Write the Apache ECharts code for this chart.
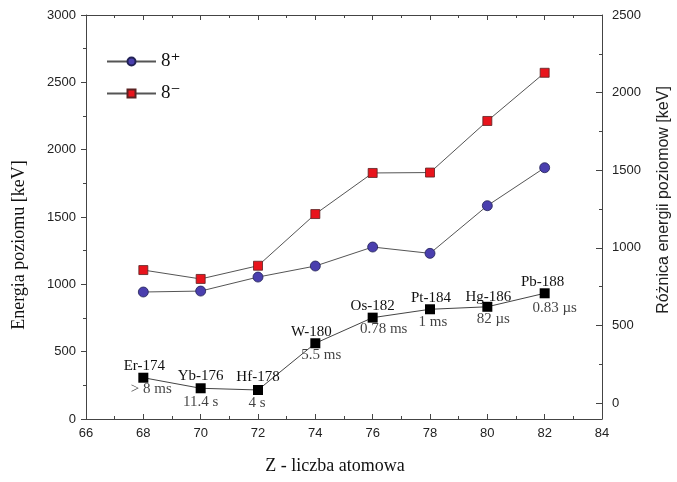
<!DOCTYPE html>
<html>
<head>
<meta charset="utf-8">
<script src="https://cdn.jsdelivr.net/npm/echarts@6/dist/echarts.min.js"></script>
<style>html,body{margin:0;padding:0;background:#fff;}#c{width:677px;height:482px;}</style>
</head>
<body>
<div id="c"></div>
<script>
// ---- data ----
var Z = [68, 70, 72, 74, 76, 78, 80, 82];
var e8plus = [943, 950, 1054, 1136, 1277, 1230, 1584, 1866];
var e8minus = [1106, 1040, 1138, 1522, 1827, 1830, 2213, 2571];
var diff = [163, 95, 84, 385, 550, 604, 620, 707];
var nuclides = ['Er-174', 'Yb-176', 'Hf-178', 'W-180', 'Os-182', 'Pt-184', 'Hg-186', 'Pb-188'];
var halfLives = ['> 8 ms', '11.4 s', '4 s', '5.5 ms', '0.78 ms', '1 ms', '82 \u00b5s', '0.83 \u00b5s'];
var xTicks = [66, 84, 2];
var leftTicks = [0, 3000, 500];
var rightRange = [-103, 2500];

// ---- label placement (style only) ----
var nameOffsets = [[1,-12],[0,-12],[0,-13],[-4,-11],[0,-12],[1,-11],[1,-10],[-2,-11]];
var lifeOffsets = [[8,11],[0,14],[-1,13],[6,12],[11,11],[3,13],[6,12],[10,15]];

var serif = "'Liberation Serif','DejaVu Serif',serif";
var sans = "'Liberation Sans',Arial,sans-serif";
var axisCol = '#444';

function pairs(vals){ return Z.map(function(z,i){ return [z, vals[i]]; }); }

var nameData = Z.map(function(z,i){
  return { value:[z, diff[i]], label:{ formatter: nuclides[i], offset: nameOffsets[i] } };
});
var lifeData = Z.map(function(z,i){
  return { value:[z, diff[i]], label:{ formatter: halfLives[i], offset: lifeOffsets[i] } };
});

var chart = echarts.init(document.getElementById('c'), null, {renderer:'canvas'});
chart.setOption({
  animation:false,
  backgroundColor:'#fff',
  grid:{ left:86, right:75, top:15, bottom:63, containLabel:false, outerBoundsMode:'none' },
  legend:{
    orient:'vertical', left:101, top:47, itemWidth:49, itemHeight:10, itemGap:13,
    data:['8\u207a','8\u207b'],
    textStyle:{ fontFamily:serif, fontSize:19, color:'#111' }
  },
  xAxis:[{
    type:'value', min:xTicks[0], max:xTicks[1], interval:xTicks[2], position:'bottom',
    name:'Z - liczba atomowa', nameLocation:'middle', nameGap:38,
    nameTextStyle:{ fontFamily:serif, fontSize:18, color:'#111', padding:[0,18,0,0] },
    axisLine:{ onZero:false, lineStyle:{ color:axisCol, width:1 } },
    axisTick:{ inside:true, length:5, lineStyle:{ color:axisCol } },
    minorTick:{ show:true, splitNumber:2, length:3, lineStyle:{ color:axisCol } },
    axisLabel:{ fontFamily:sans, fontSize:13, color:'#222', margin:8 },
    splitLine:{ show:false }
  },{
    type:'value', min:xTicks[0], max:xTicks[1], interval:xTicks[2], position:'top',
    axisLine:{ onZero:false, lineStyle:{ color:axisCol, width:1 } },
    axisTick:{ inside:true, length:5, lineStyle:{ color:axisCol } },
    minorTick:{ show:true, splitNumber:2, length:3, lineStyle:{ color:axisCol } },
    axisLabel:{ show:false }, splitLine:{ show:false }
  }],
  yAxis:[{
    type:'value', min:leftTicks[0], max:leftTicks[1], interval:leftTicks[2], position:'left',
    name:'Energia poziomu [keV]', nameLocation:'middle', nameGap:58, nameRotate:90,
    nameTextStyle:{ fontFamily:serif, fontSize:18, color:'#111', padding:[0,56,0,0] },
    axisLine:{ show:true, onZero:false, lineStyle:{ color:axisCol, width:1 } },
    axisTick:{ show:true, inside:false, length:5, lineStyle:{ color:axisCol } },
    minorTick:{ show:true, splitNumber:2, length:3, lineStyle:{ color:axisCol } },
    axisLabel:{ fontFamily:sans, fontSize:13, color:'#222', margin:10,
      formatter:function(v){ return String(v); } },
    splitLine:{ show:false }
  },{
    type:'value', min:rightRange[0], max:rightRange[1], splitNumber:5, position:'right',
    name:'R\u00f3\u017cnica energii poziomow [keV]', nameLocation:'middle', nameGap:54, nameRotate:90,
    nameTextStyle:{ fontFamily:sans, fontSize:16, color:'#222', padding:[0,0,0,34] },
    axisLine:{ show:true, onZero:false, lineStyle:{ color:axisCol, width:1 } },
    axisTick:{ show:true, inside:true, length:6, lineStyle:{ color:axisCol } },
    minorTick:{ show:true, splitNumber:2, length:3, lineStyle:{ color:axisCol } },
    axisLabel:{ fontFamily:sans, fontSize:13, color:'#222', margin:10,
      formatter:function(v){ return v < 0 ? '' : String(v); } },
    splitLine:{ show:false }
  }],
  series:[{
    name:'8\u207a', type:'line', xAxisIndex:0, yAxisIndex:0, data:pairs(e8plus),
    symbol:'circle', symbolSize:10,
    lineStyle:{ color:'#555', width:1 },
    itemStyle:{ color:'#4a3fae', borderColor:'#222255', borderWidth:0.8 }
  },{
    name:'8\u207b', type:'line', xAxisIndex:0, yAxisIndex:0, data:pairs(e8minus),
    symbol:'rect', symbolSize:9,
    lineStyle:{ color:'#555', width:1 },
    itemStyle:{ color:'#e8141c', borderColor:'#5a2222', borderWidth:0.8 }
  },{
    name:'diff', type:'line', xAxisIndex:0, yAxisIndex:1, data:nameData,
    symbol:'rect', symbolSize:10,
    lineStyle:{ color:'#444', width:1 },
    itemStyle:{ color:'#000' },
    label:{ show:true, position:'inside', fontFamily:serif, fontSize:15, color:'#111' }
  },{
    name:'life', type:'scatter', xAxisIndex:0, yAxisIndex:1, data:lifeData,
    symbolSize:0, silent:true,
    label:{ show:true, position:'inside', fontFamily:serif, fontSize:15, color:'#111' }
  }]
});
</script>
</body>
</html>
